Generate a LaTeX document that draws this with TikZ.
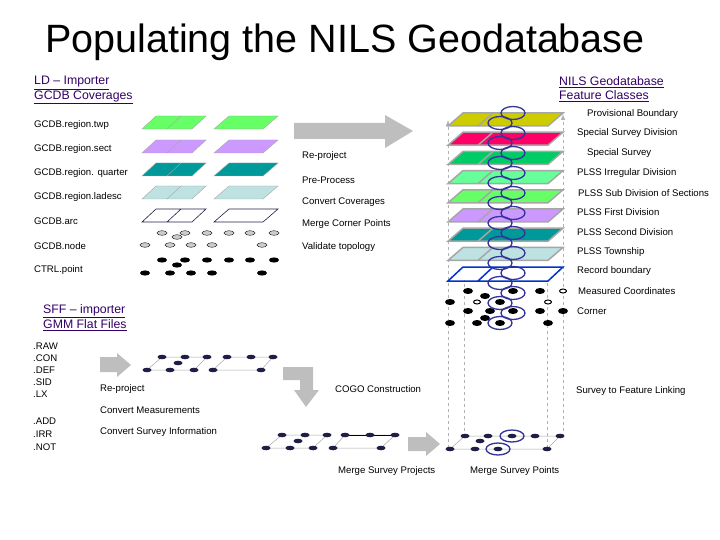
\documentclass[tikz,border=0pt]{standalone}
\usepackage{fontspec}
\setmainfont{Liberation Sans}
\begin{document}
\begin{tikzpicture}[x=1pt,y=-1pt,
  lbl/.style={anchor=west,inner sep=0pt,font=\fontsize{9.6}{11}\selectfont},
  hdr/.style={anchor=west,inner sep=0pt,font=\fontsize{12.3}{13}\selectfont,text=hdrc},
  gar/.style={fill=garrow,draw=none},
  gdot/.style={fill=gray!40,draw=black,line width=0.4pt},
  bdot/.style={fill=black},
  ndot/.style={fill=navyd},
  ring/.style={draw=ringc,line width=1.3pt}]
\definecolor{hdrc}{RGB}{51,0,102}
\definecolor{garrow}{RGB}{190,190,190}
\definecolor{ringc}{RGB}{51,51,153}
\definecolor{navyd}{RGB}{30,30,70}
\definecolor{cgreen}{RGB}{102,255,102}
\definecolor{cpurple}{RGB}{204,153,255}
\definecolor{cteal}{RGB}{0,153,153}
\definecolor{clblue}{RGB}{190,225,225}
\definecolor{colive}{RGB}{204,204,0}
\definecolor{ccrim}{RGB}{255,0,102}
\definecolor{cmgreen}{RGB}{0,204,102}
\definecolor{clgreen}{RGB}{102,255,153}
\definecolor{cblue}{RGB}{0,51,204}
\useasboundingbox (0,0) rectangle (720,540);

% title and headers
\node[anchor=west,inner sep=0pt,font=\fontsize{39.5}{44}\selectfont] (title) at (45,42) {Populating the NILS Geodatabase};
\node[hdr] (ld1) at (34,83) {\underline{LD -- Importer}};
\node[hdr] (ld2) at (34,97) {\underline{GCDB Coverages}};
\node[hdr] (ng1) at (559,82) {\underline{NILS Geodatabase}};
\node[hdr] (ng2) at (559,96) {\underline{Feature Classes}};
\node[hdr] (sf1) at (43,311) {\underline{SFF -- importer}};
\node[hdr] (sf2) at (43,325) {\underline{GMM Flat Files}};

% left labels
\node[lbl] (l1) at (34,125) {GCDB.region.twp};
\node[lbl] (l2) at (34,149) {GCDB.region.sect};
\node[lbl] (l3) at (34,173) {GCDB.region. quarter};
\node[lbl] (l4) at (34,197) {GCDB.region.ladesc};
\node[lbl] (l5) at (34,221) {GCDB.arc};
\node[lbl] (l6) at (34,246) {GCDB.node};
\node[lbl] (l7) at (34,270) {CTRL.point};

% left layers
\foreach \t/\c in {116/cgreen,140/cpurple,163/cteal,186/clblue}{
  \fill[\c,draw=gray!70,line width=0.4pt] (142,\t+13) -- (156,\t) -- (206,\t) -- (192,\t+13) -- cycle;
  \draw[gray!70,line width=0.4pt] (167,\t+13) -- (181,\t);
  \fill[\c,draw=gray!70,line width=0.4pt] (214,\t+13) -- (229,\t) -- (278,\t) -- (263,\t+13) -- cycle;
}
\draw[navyd,line width=0.6pt] (142,222) -- (156,209) -- (206,209) -- (192,222) -- cycle
  (167,222) -- (181,209) (214,222) -- (229,209) -- (278,209) -- (263,222) -- cycle;
\foreach \x in {162,185,207,229,250,274}{\draw[gdot] (\x,233) ellipse (5 and 2.3);}
\foreach \x in {145,170,191,212,262}{\draw[gdot] (\x,245) ellipse (5 and 2.3);}
\draw[gdot] (177,237) ellipse (5 and 2.3);
\foreach \x in {162,185,207,229,250,274}{\fill[bdot] (\x,260) ellipse (5 and 2.6);}
\foreach \x in {145,170,191,212,262}{\fill[bdot] (\x,273) ellipse (5 and 2.6);}
\fill[bdot] (177,265) ellipse (5 and 2.6);

% big arrow
\fill[gar] (294,123) -- (385,123) -- (385,115) -- (413,131) -- (385,148) -- (385,139) -- (294,139) -- cycle;
\node[lbl] (m1) at (302,156) {Re-project};
\node[lbl] (m2) at (302,180) {Pre-Process};
\node[lbl] (m3) at (302,202) {Convert Coverages};
\node[lbl] (m4) at (302,224) {Merge Corner Points};
\node[lbl] (m5) at (302,247) {Validate topology};

% dashed verticals
\draw[gray!60,dashed,line width=1pt,-latex] (448,448) -- (448,120);
\draw[gray!60,dashed,line width=1pt,-latex] (563,437) -- (563,114);
\draw[gray!60,dashed,line width=1pt] (464,437) -- (464,280);
\draw[gray!60,dashed,line width=1pt] (547,448) -- (547,280);

% right stack
\foreach \i/\c in {0/colive,1/ccrim,2/cmgreen,3/clgreen,4/cgreen,5/cpurple,6/cteal,7/clblue}{
  \pgfmathsetmacro{\t}{113+19.2*\i}
  \fill[\c,draw=gray!70,line width=1.5pt] (448,\t+13) -- (463,\t) -- (563,\t) -- (548,\t+13) -- cycle;
  \draw[gray!70,line width=1.5pt] (478,\t+13) -- (493,\t);
}
\draw[cblue,line width=1.5pt] (448,281) -- (463,267) -- (563,267) -- (548,281) -- cycle
  (478,281) -- (493,267);
% dots in stack
\foreach \p in {(468,291),(540,291),(450,302),(468,311),(490,311),(540,311),(563,311),(485,318),(450,323),(477,323),(548,323),(485,296),(513,291),(500,302),(513,311),(500,323)}{\fill[bdot] \p ellipse (5 and 3);}
\foreach \p in {(563,291),(477,302),(548,302)}{\draw[bdot,draw=black,line width=1pt,fill=white] \p ellipse (3.5 and 2);}
\foreach \i in {0,...,21}{
  \pgfmathsetmacro{\yy}{113+10*\i}
  \pgfmathsetmacro{\xx}{mod(\i,2)==0 ? 513 : 500}
  \draw[ring] (\xx,\yy) ellipse (12 and 6.5);
}

% right labels
\node[lbl] (r1) at (587,114) {Provisional Boundary};
\node[lbl] (r2) at (577,133) {Special Survey Division};
\node[lbl] (r3) at (587,153) {Special Survey};
\node[lbl] (r4) at (577,173) {PLSS Irregular Division};
\node[lbl] (r5) at (578,193) {PLSS Sub Division of Sections};
\node[lbl] (r6) at (577,212) {PLSS First Division};
\node[lbl] (r7) at (577,232) {PLSS Second Division};
\node[lbl] (r8) at (577,252) {PLSS Township};
\node[lbl] (r9) at (577,271) {Record boundary};
\node[lbl] (r10) at (578,291) {Measured Coordinates};
\node[lbl] (r11) at (577,311) {Corner};

% SFF section
\foreach \s/\y in {.RAW/346,.CON/358,.DEF/370,.SID/382,.LX/394,.ADD/421,.IRR/434,.NOT/447}{
  \node[lbl] (f\y) at (33,\y) {\s};
}
\fill[gar] (100,357) -- (117,357) -- (117,353) -- (131,365) -- (117,377) -- (117,372) -- (100,372) -- cycle;
\node[lbl] (s1) at (100,389) {Re-project};
\node[lbl] (s2) at (100,410) {Convert Measurements};
\node[lbl] (s3) at (100,432) {Convert Survey Information};

% survey parallelograms top
\draw[gray!70,line width=0.5pt] (147,370) -- (162,357) -- (207,357) -- (194,370) -- cycle
  (213,370) -- (227,357) -- (273,357) -- (261,370) -- cycle;
\foreach \p in {(162,357),(185,357),(207,357),(178,363),(147,370),(170,370),(194,370),(227,357),(251,357),(273,357),(213,370),(261,370)}{\fill[ndot] \p ellipse (4.5 and 2.3);}

% bent arrow
\fill[gar] (283,367) -- (313,367) -- (313,390) -- (319,390) -- (306,407) -- (294,390) -- (300,390) -- (300,380) -- (283,380) -- cycle;
\node[lbl] (c1) at (335,389) {COGO Construction};
\node[lbl] (c2) at (576,391) {Survey to Feature Linking};

% survey parallelograms bottom
\draw[gray!70,line width=0.5pt] (266,448) -- (282,435) -- (327,435) -- (313,448) -- cycle
  (333,448) -- (345,435) -- (395,435) -- (381,448) -- cycle
  (450,449) -- (465,436) -- (560,436) -- (547,449) -- cycle;
\draw[black,line width=0.7pt] (345,435) -- (395,435);
\foreach \p in {(282,435),(305,435),(327,435),(298,441),(266,448),(290,448),(313,448),(345,435),(370,435),(395,435),(333,448),(381,448),
  (465,436),(488,436),(512,436),(535,436),(560,436),(480,441),(450,449),(475,449),(498,449),(547,449)}{\fill[ndot] \p ellipse (4.5 and 2.3);}
\draw[ring] (512,436) ellipse (12 and 6);
\draw[ring] (498,449) ellipse (12 and 6);
\fill[gar] (408,437) -- (426,437) -- (426,432) -- (440,444) -- (426,456) -- (426,451) -- (408,451) -- cycle;
\node[lbl] (b1) at (338,471) {Merge Survey Projects};
\node[lbl] (b2) at (470,471) {Merge Survey Points};
\end{tikzpicture}
\end{document}
